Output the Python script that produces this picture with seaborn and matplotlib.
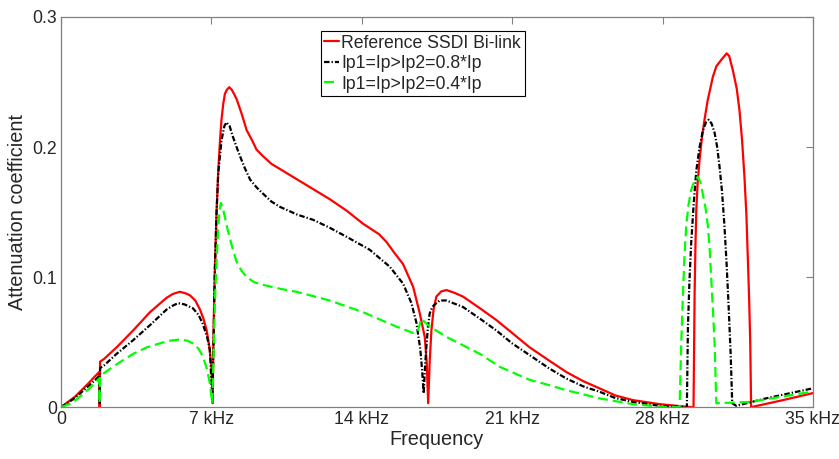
import numpy as np
import pandas as pd
import matplotlib
matplotlib.use("Agg")
import matplotlib.pyplot as plt
import seaborn as sns

# frequency in kHz, attenuation
f_red = [0, 0.65, 1.26, 1.6, 1.78, 1.80, 1.82, 2.0, 2.59, 3.36, 4.14, 4.91, 5.2, 5.53, 5.8, 6.0, 6.25,
         6.47, 6.63, 6.78, 6.9, 7.0, 7.06, 7.1, 7.16, 7.24, 7.32, 7.4, 7.47, 7.55, 7.63, 7.72, 7.83,
         7.95, 8.05, 8.17, 8.4, 8.64, 8.9, 9.1, 9.4, 9.8, 10.8, 11.6, 12.5, 13.3, 14.06, 14.8, 15.15,
         15.5, 15.92, 16.39, 16.7, 16.93, 17.02, 17.09, 17.16, 17.24, 17.34, 17.47, 17.7, 17.94, 18.3,
         18.71, 19.5, 20.26, 21.0, 21.81, 22.7, 23.52, 24.3, 25.07, 25.8, 26.62, 27.86, 28.8, 29.33,
         29.44, 29.49, 29.53, 29.57, 29.63, 29.72, 29.83, 29.95, 30.1, 30.34, 30.5, 30.73, 30.98, 31.1,
         31.27, 31.45, 31.58, 31.7, 31.81, 31.9, 31.97, 32.03, 32.08, 32.12, 33.5, 35]
v_red = [0, 0.008, 0.018, 0.024, 0.027, 0.0, 0.035, 0.037, 0.046, 0.059, 0.073, 0.084, 0.087, 0.0887,
         0.0875, 0.086, 0.082, 0.075, 0.068, 0.059, 0.047, 0.031, 0.003, 0.06, 0.105, 0.150, 0.182,
         0.205, 0.221, 0.233, 0.241, 0.244, 0.246, 0.244, 0.241, 0.237, 0.226, 0.213, 0.205, 0.198,
         0.193, 0.187, 0.177, 0.169, 0.160, 0.151, 0.141, 0.133, 0.127, 0.119, 0.110, 0.0925, 0.072,
         0.054, 0.035, 0.003, 0.035, 0.059, 0.075, 0.085, 0.089, 0.090, 0.088, 0.085, 0.076, 0.067,
         0.057, 0.046, 0.036, 0.027, 0.020, 0.0144, 0.009, 0.0054, 0.0023, 0.0008, 0.0, 0.0, 0.0875,
         0.125, 0.152, 0.172, 0.190, 0.207, 0.221, 0.236, 0.254, 0.262, 0.267, 0.272, 0.270, 0.259,
         0.245, 0.228, 0.205, 0.177, 0.148, 0.113, 0.082, 0.049, 0.0, 0.005, 0.0108]

f_blk = [0, 0.65, 1.26, 1.6, 1.78, 1.80, 1.82, 2.0, 2.59, 3.36, 4.14, 4.91, 5.2, 5.45, 5.75, 6.14, 6.4,
         6.6, 6.8, 6.93, 7.04, 7.1, 7.16, 7.24, 7.32, 7.47, 7.6, 7.7, 7.85, 8.0, 8.15, 8.33, 8.55, 8.8,
         9.1, 9.41, 9.8, 10.19, 11.0, 11.74, 12.5, 13.29, 14.37, 15.3, 15.92, 16.31, 16.54, 16.72, 16.8,
         16.88, 16.94, 17.0, 17.08, 17.16, 17.28, 17.4, 17.63, 17.94, 18.71, 19.5, 20.26, 21.0, 21.81,
         22.7, 23.52, 24.3, 25.07, 25.8, 26.62, 27.86, 28.8, 29.02, 29.13, 29.18, 29.25, 29.33, 29.45,
         29.57, 29.72, 29.88, 30.02, 30.15, 30.28, 30.42, 30.54, 30.65, 30.77, 30.88, 30.98, 31.08,
         31.17, 31.24, 31.43, 32.8, 35]
v_blk = [0, 0.007, 0.016, 0.021, 0.024, 0.003, 0.030, 0.032, 0.041, 0.0515, 0.063, 0.075, 0.078, 0.080,
         0.079, 0.076, 0.071, 0.064, 0.054, 0.044, 0.005, 0.05, 0.105, 0.150, 0.180, 0.205, 0.216,
         0.219, 0.216, 0.208, 0.201, 0.193, 0.184, 0.175, 0.169, 0.164, 0.158, 0.154, 0.148, 0.144,
         0.138, 0.131, 0.121, 0.108, 0.095, 0.080, 0.065, 0.045, 0.030, 0.0105, 0.030, 0.045, 0.062,
         0.072, 0.077, 0.079, 0.082, 0.082, 0.077, 0.068, 0.059, 0.049, 0.040, 0.030, 0.022, 0.016,
         0.0118, 0.007, 0.004, 0.001, 0.0003, 0.0, 0.0, 0.062, 0.097, 0.126, 0.157, 0.182, 0.200,
         0.213, 0.219, 0.221, 0.218, 0.211, 0.200, 0.185, 0.165, 0.139, 0.110, 0.075, 0.040, 0.003,
         0.001, 0.0067, 0.0145]

f_grn = [0, 0.5, 0.88, 1.3, 1.78, 1.80, 1.82, 2.5, 3.36, 4.0, 4.6, 5.0, 5.53, 5.9, 6.14, 6.4, 6.6, 6.8,
         6.93, 7.04, 7.1, 7.16, 7.24, 7.32, 7.38, 7.44, 7.52, 7.63, 7.75, 7.86, 8.0, 8.17, 8.4, 8.64,
         9.0, 9.41, 10.2, 10.96, 12.51, 14.06, 15.6, 16.39, 16.6, 16.77, 16.95, 17.16, 17.94, 19.49,
         20.42, 21.81, 22.7, 23.52, 25.07, 26.62, 27.5, 28.17, 28.79, 28.87, 28.95, 29.02, 29.1, 29.2,
         29.33, 29.48, 29.64, 29.76, 29.87, 30.0, 30.11, 30.19, 30.26, 30.34, 30.42, 30.5, 32.05, 35]
v_grn = [0, 0.003, 0.008, 0.014, 0.022, 0.003, 0.024, 0.032, 0.041, 0.046, 0.049, 0.051, 0.052, 0.051,
         0.049, 0.045, 0.039, 0.029, 0.018, 0.003, 0.04, 0.080, 0.112, 0.139, 0.151, 0.157, 0.154,
         0.146, 0.137, 0.130, 0.121, 0.112, 0.105, 0.100, 0.096, 0.094, 0.091, 0.0887, 0.082, 0.073,
         0.062, 0.057, 0.058, 0.068, 0.065, 0.062, 0.054, 0.041, 0.031, 0.021, 0.017, 0.013, 0.0067,
         0.0023, 0.001, 0.0, 0.0, 0.05, 0.0875, 0.117, 0.139, 0.155, 0.167, 0.174, 0.177, 0.173, 0.164,
         0.153, 0.139, 0.122, 0.100, 0.076, 0.049, 0.003, 0.004, 0.012]

labels = ["Reference SSDI Bi-link", "Ip1=Ip>Ip2=0.8*Ip", "Ip1=Ip>Ip2=0.4*Ip"]
xticks = [0, 7, 14, 21, 28, 35]
xticklabels = ["0", "7 kHz", "14 kHz", "21 kHz", "28 kHz", "35 kHz"]
yticks = [0, 0.1, 0.2, 0.3]
yticklabels = ["0", "0.1", "0.2", "0.3"]

sns.set_style("white", {"axes.edgecolor": "#808080", "xtick.direction": "in", "ytick.direction": "in"})
plt.rcParams["font.family"] = ["Liberation Sans", "DejaVu Sans"]

fig = plt.figure(figsize=(8.39, 4.59), dpi=100)
ax = fig.add_axes([0.0727, 0.113, 0.8963, 0.85])

sns.lineplot(x=f_red, y=v_red, color="#ff0000", lw=1.6, sort=False, estimator=None,
             ax=ax, label=labels[0])
sns.lineplot(x=f_blk, y=v_blk, color="black", lw=1.6, linestyle=(0, (2.5, 0.9, 0.6, 0.9)),
             sort=False, estimator=None, ax=ax, label=labels[1])
sns.lineplot(x=f_grn, y=v_grn, color="#00ff00", lw=1.6, linestyle=(0, (4.5, 2.2)),
             sort=False, estimator=None, ax=ax, label=labels[2])

ax.set_xlim(0, 35)
ax.set_ylim(0, 0.3)
ax.set_xticks(xticks)
ax.set_xticklabels(xticklabels)
ax.set_yticks(yticks)
ax.set_yticklabels(yticklabels)
ax.tick_params(which="both", direction="in", length=5, width=0.8, color="#808080",
               labelsize=12.7, labelcolor="#262626", top=True, right=True, pad=3)
for s in ax.spines.values():
    s.set_visible(True)
    s.set_color("#808080")
    s.set_linewidth(0.9)
ax.set_xlabel("Frequency", fontsize=14.3, color="#262626", labelpad=1)
ax.set_ylabel("Attenuation coefficient", fontsize=14.3, color="#262626", labelpad=4)

leg = ax.legend(loc="upper left", bbox_to_anchor=(0.3457, 0.964), fontsize=12.7, frameon=True,
                fancybox=False, edgecolor="black", framealpha=1, handlelength=0.85,
                handletextpad=0.1, borderpad=0.2, labelspacing=0.2, borderaxespad=0)
leg.get_frame().set_linewidth(0.8)

fig.savefig("out.png", dpi=100)
